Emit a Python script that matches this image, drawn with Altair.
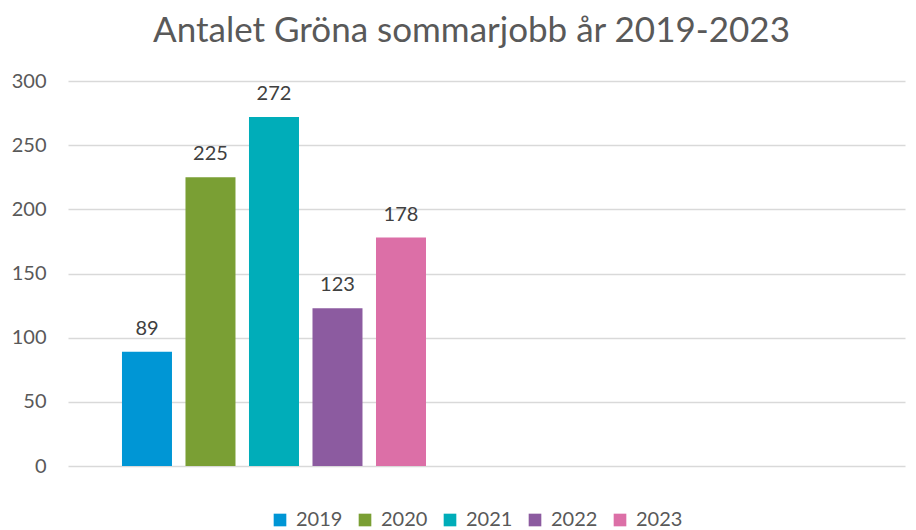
import altair as alt
import pandas as pd

years = ["2019", "2020", "2021", "2022", "2023"]
values = [89, 225, 272, 123, 178]
colors = ["#0096D5", "#7A9F34", "#00ADB9", "#8C5BA0", "#DC6FA7"]
categories = ["Gröna sommarjobb", "(tom)"]
y_ticks = [0, 50, 100, 150, 200, 250, 300]
title_text = "Antalet Gröna sommarjobb år 2019-2023"

df = pd.DataFrame({"grupp": [categories[0]] * len(years), "år": years, "antal": values})

FONT = "Lato"

x_enc = alt.X("grupp:N", scale=alt.Scale(domain=categories, paddingInner=0.2847, paddingOuter=0.127), axis=None)
xo_enc = alt.XOffset("år:N", scale=alt.Scale(domain=years, paddingInner=0.2126, paddingOuter=0))
y_enc = alt.Y("antal:Q", scale=alt.Scale(domain=[0, 300], nice=False),
              axis=alt.Axis(values=y_ticks, title=None, domain=False, ticks=False,
                            labelFont=FONT, labelFontSize=20, labelColor="#595959",
                            labelPadding=22, gridColor="#D9D9D9", gridWidth=1.5))

bars = alt.Chart(df).mark_bar().encode(
    x=x_enc, xOffset=xo_enc, y=y_enc,
    color=alt.Color("år:N", scale=alt.Scale(domain=years, range=colors),
                    legend=alt.Legend(title=None, orient="none", direction="horizontal",
                                      legendX=202, legendY=429, padding=0,
                                      symbolType="square", symbolSize=160, symbolStrokeWidth=0,
                                      labelFont=FONT, labelFontSize=20, labelColor="#595959",
                                      labelOffset=6, columnPadding=12, gridAlign="all")),
)

labels = alt.Chart(df).mark_text(font=FONT, fontSize=20, color="#404040",
                                 baseline="alphabetic", dy=-17).encode(
    x=x_enc, xOffset=xo_enc, y=alt.Y("antal:Q"), text="antal:Q"
)

chart = (bars + labels).properties(
    width=837, height=385,
    title=alt.TitleParams(title_text, font=FONT, fontSize=35, fontWeight="normal",
                          color="#595959", anchor="middle", dx=-15, offset=22),
    autosize=alt.AutoSizeParams(type="none"),
    padding={"left": 60, "top": 73, "right": 3, "bottom": 64},
).configure_view(stroke=None)

chart.save("out.html", embed_options={"renderer": "svg", "actions": False})
